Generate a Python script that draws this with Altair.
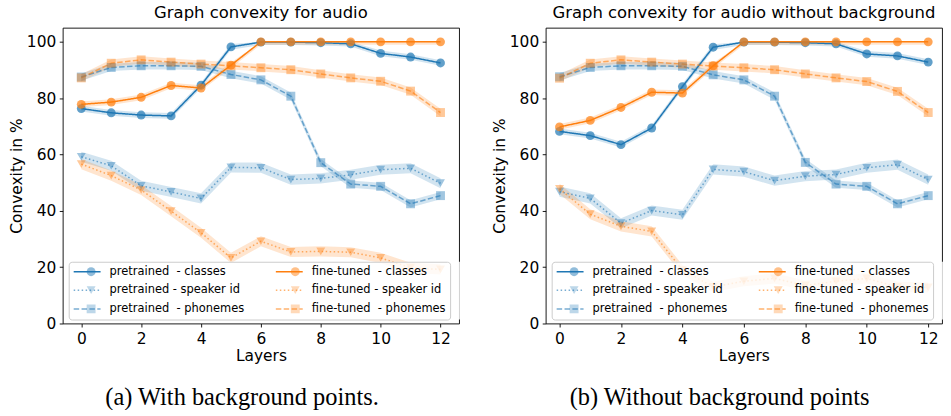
import altair as alt
import pandas as pd

LAYERS = list(range(13))

SERIES = [
    "pretrained\u00a0 - classes",
    "pretrained - speaker id",
    "pretrained\u00a0 - phonemes",
    "fine-tuned\u00a0 - classes",
    "fine-tuned - speaker id",
    "fine-tuned\u00a0 - phonemes",
]
KIND = ["classes", "speaker", "phonemes", "classes", "speaker", "phonemes"]

# (a) with background points
A_P_CLS = [76.3, 74.8, 74.0, 73.7, 84.6, 98.2, 99.9, 99.9, 99.7, 99.3, 95.9, 94.6, 92.5]
A_P_SPK = [59.2, 56.0, 48.9, 46.7, 44.4, 55.4, 55.3, 51.1, 51.5, 52.8, 54.6, 55.1, 49.8]
A_P_PHO = [87.5, 90.9, 91.5, 91.5, 91.3, 88.4, 86.5, 80.7, 57.1, 49.5, 48.7, 42.5, 45.4]
A_F_CLS = [77.8, 78.6, 80.3, 84.5, 83.6, 91.7, 100, 100, 100, 100, 100, 100, 100]
A_F_SPK = [56.6, 52.5, 47.4, 39.9, 32.2, 23.3, 29.2, 25.4, 25.6, 25.3, 23.3, 19.8, 19.2]
A_F_PHO = [87.2, 92.4, 93.6, 92.8, 92.1, 91.5, 90.8, 90.1, 88.6, 87.2, 86.0, 82.5, 74.9]

# (b) without background points
B_P_CLS = [68.2, 66.7, 63.5, 69.4, 84.1, 98.1, 99.9, 99.9, 99.7, 99.3, 95.7, 95.0, 92.8]
B_P_SPK = [46.8, 44.4, 35.6, 40.1, 38.6, 54.7, 53.9, 50.7, 52.3, 52.9, 55.3, 56.4, 51.1]
B_P_PHO = [87.6, 90.9, 91.5, 91.5, 91.3, 88.3, 86.5, 80.7, 57.2, 49.5, 48.7, 42.5, 45.4]
B_F_CLS = [69.8, 72.1, 76.7, 82.1, 81.8, 91.5, 100, 100, 100, 100, 100, 100, 100]
B_F_SPK = [47.8, 38.8, 34.5, 32.7, 19.0, 13.0, 15.0, 16.0, 13.5, 15.0, 16.0, 13.0, 12.8]
B_F_PHO = [87.1, 92.4, 93.6, 92.8, 92.1, 91.4, 90.8, 90.1, 88.6, 87.2, 85.9, 82.4, 74.9]

# half-width of the shaded spread around each curve
SPREAD = {"classes": 1.0, "speaker": 1.8, "phonemes": 1.3}

BLUE, ORANGE = "#1f77b4", "#ff7f0e"
BLUE_A, ORANGE_A = "rgba(31,119,180,0.6)", "rgba(255,127,14,0.6)"
LINE_COLORS = [BLUE, BLUE_A, BLUE_A, ORANGE, ORANGE_A, ORANGE_A]
BAND_COLORS = [BLUE, BLUE, BLUE, ORANGE, ORANGE, ORANGE]
DASHES = [[1, 0], [1.5, 2.5], [5.5, 2.4], [1, 0], [1.5, 2.5], [5.5, 2.4]]
SHAPES = ["circle", "triangle-down", "square", "circle", "triangle-down", "square"]

ZW = "\u200b"  # marker legend uses its own domain so it stays a separate legend
SERIES_PT = [s + ZW for s in SERIES]

FONT = "DejaVu Sans"


def frame(values):
    rows = []
    for name, kind, vals in zip(SERIES, KIND, values):
        s = SPREAD[kind]
        for layer, v in zip(LAYERS, vals):
            rows.append({
                "layer": layer, "value": v, "series": name, "series_pt": name + ZW,
                "lo": v - s, "hi": min(v + s, 100.0),
            })
    return pd.DataFrame(rows)


def panel(title, values, xdom):
    df = frame(values)
    base = alt.Chart(df)
    x = alt.X("layer:Q", scale=alt.Scale(domain=xdom, nice=False, zero=False),
              axis=alt.Axis(values=list(range(0, 13, 2)), title="Layers", format="d",
                            labelPadding=4.5))
    y_axis = alt.Axis(values=[0, 20, 40, 60, 80, 100], title="Convexity in %")
    yscale = alt.Scale(domain=[0, 105], nice=False)

    # two legends stacked at one spot: the marker legend (drawn first, carrying the
    # translucent backdrop) and the line legend on top with the labels and the border
    lx, ly = 6, 235
    shift = 12.75
    common = dict(title=None, orient="none", columns=2, labelFont=FONT, labelFontSize=11.5,
                  rowPadding=5.8, padding=4, columnPadding=30, zindex=1, labelLimit=300,
                  clipHeight=11.5, legendY=ly)
    line_legend = alt.Legend(legendX=lx, symbolType="stroke", symbolSize=729,
                             symbolStrokeWidth=1.5, labelOffset=8, labelColor="black",
                             strokeColor="#cccccc", cornerRadius=3, **common)
    mark_legend = alt.Legend(legendX=lx + shift, symbolSize=80, symbolStrokeWidth=0,
                             labelOffset=27.5, labelOpacity=0,
                             fillColor="rgba(255,255,255,0.8)", cornerRadius=3, **common)

    band = base.mark_area(fillOpacity=0.2).encode(
        x=x,
        y=alt.Y("lo:Q", scale=yscale, axis=y_axis),
        y2="hi:Q",
        fill=alt.Fill("series:N", scale=alt.Scale(domain=SERIES, range=BAND_COLORS), legend=None),
    )
    lines = base.mark_line(strokeWidth=1.5).encode(
        x=x,
        y=alt.Y("value:Q", scale=yscale, axis=y_axis),
        color=alt.Color("series:N", scale=alt.Scale(domain=SERIES, range=LINE_COLORS),
                        legend=line_legend),
        strokeDash=alt.StrokeDash("series:N", scale=alt.Scale(domain=SERIES, range=DASHES),
                                  legend=line_legend),
    )
    points = base.mark_point(filled=True, size=80, strokeWidth=0).encode(
        x=x,
        y=alt.Y("value:Q", scale=yscale, axis=y_axis),
        shape=alt.Shape("series_pt:N", scale=alt.Scale(domain=SERIES_PT, range=SHAPES),
                        legend=mark_legend),
        fill=alt.Fill("series_pt:N", scale=alt.Scale(domain=SERIES_PT, range=LINE_COLORS),
                      legend=mark_legend),
    )
    return (
        alt.layer(band, lines, points)
        .resolve_scale(fill="independent", shape="independent")
        .properties(width=398, height=297,
                    title=alt.TitleParams(title, font=FONT, fontSize=16.5, fontWeight="normal",
                                          color="black", offset=6))
    )


def with_caption(chart, caption, dx):
    return alt.vconcat(
        chart,
        title=alt.TitleParams(caption, orient="bottom", anchor="middle", font="Liberation Serif",
                              fontSize=24.5, fontWeight="normal", color="black", offset=21,
                              dx=dx),
    )


left = with_caption(
    panel("Graph convexity for audio",
          [A_P_CLS, A_P_SPK, A_P_PHO, A_F_CLS, A_F_SPK, A_F_PHO], [-0.62, 12.62]),
    "(a) With background points.", 4)
right = with_caption(
    panel("Graph convexity for audio without background",
          [B_P_CLS, B_P_SPK, B_P_PHO, B_F_CLS, B_F_SPK, B_F_PHO], [-0.45, 12.45]),
    "(b) Without background points", -1.5)

chart = (
    alt.hconcat(left, right, spacing=23)
    .resolve_scale(color="independent", fill="independent", shape="independent",
                   strokeDash="independent", x="independent", y="independent")
    .resolve_legend(color="independent", fill="independent", shape="independent",
                    strokeDash="independent")
    .properties(padding={"left": 8, "top": 4, "right": 0, "bottom": 0}, background="white")
    .configure_view(stroke="black", strokeWidth=0.9)
    .configure_axis(labelFont=FONT, labelFontSize=15.5, titleFont=FONT, titleFontSize=15.5,
                    titleFontWeight="normal", labelColor="black", titleColor="black",
                    tickColor="black", tickSize=3.5, tickWidth=0.9, domain=False, grid=False,
                    labelPadding=3.5, labelFlush=False, titlePadding=2)
)

chart.save("out.html", embed_options={"renderer": "svg", "actions": False})
